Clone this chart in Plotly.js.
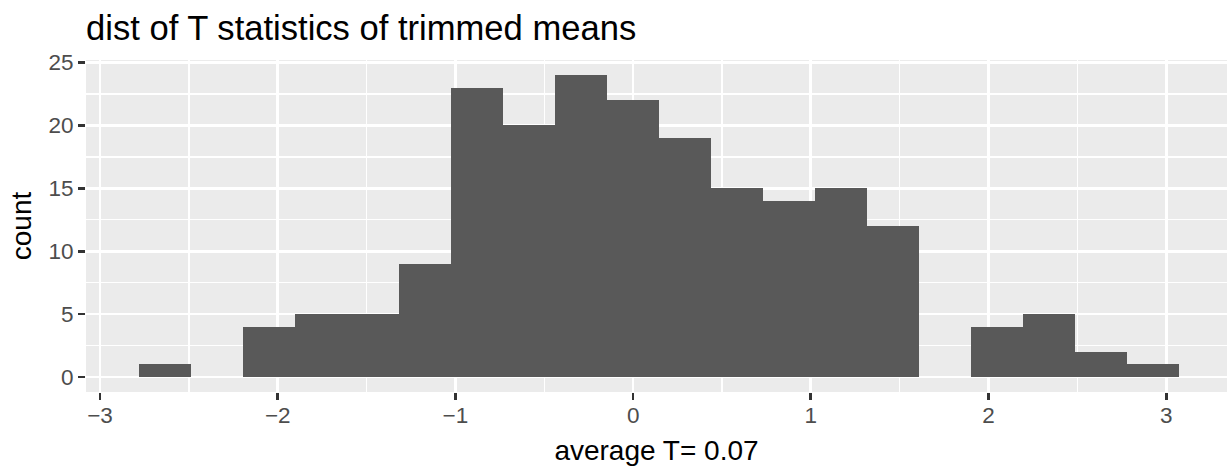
<!DOCTYPE html>
<html>
<head>
<meta charset="utf-8">
<script src="https://cdn.plot.ly/plotly-3.0.1.min.js"></script>
<style>html,body{margin:0;padding:0;background:#fff;}</style>
</head>
<body>
<div id="chart" style="width:1227px;height:466px;"></div>
<script>
// Histogram data (20 bins)
const binCenters = [-2.6347, -2.3420, -2.0494, -1.7567, -1.4641, -1.1714, -0.8788, -0.5861, -0.2935, -0.0008,
                    0.2918, 0.5845, 0.8771, 1.1698, 1.4624, 1.7551, 2.0477, 2.3404, 2.6330, 2.9257];
const binWidth = 0.29265;
const counts = [1, 0, 4, 5, 5, 9, 23, 20, 24, 22, 19, 15, 14, 15, 12, 0, 4, 5, 2, 1];
const xTicks = [-3, -2, -1, 0, 1, 2, 3];
const xTickLabels = ['\u22123', '\u22122', '\u22121', '0', '1', '2', '3'];
const yTicks = [0, 5, 10, 15, 20, 25];
const yTickLabels = ['0', '5', '10', '15', '20', '25'];
const titleText = 'dist of T statistics of trimmed means';
const xTitle = 'average T= 0.07';
const yTitle = 'count';

const font = 'Liberation Sans, Arial, Helvetica, sans-serif';

const trace = {
  type: 'bar',
  x: binCenters,
  y: counts,
  width: binCenters.map(() => binWidth),
  marker: {color: '#595959', line: {width: 0}},
  hoverinfo: 'x+y'
};

const layout = {
  width: 1227,
  height: 466,
  margin: {l: 86, r: 0, t: 60, b: 74, pad: 0},
  paper_bgcolor: '#FFFFFF',
  plot_bgcolor: '#EBEBEB',
  showlegend: false,
  bargap: 0,
  title: {
    text: titleText,
    font: {family: font, size: 34.6, color: '#000000'},
    x: 0, xref: 'paper', xanchor: 'left',
    y: 1 - 28/466, yref: 'container', yanchor: 'middle'
  },
  xaxis: {
    range: [-3.079, 3.342],
    tickmode: 'array',
    tickvals: xTicks,
    ticktext: xTickLabels,
    ticks: 'outside',
    ticklen: 7,
    tickwidth: 2.7,
    tickcolor: '#333333',
    tickfont: {family: font, size: 22.5, color: '#4D4D4D'},
    ticklabelstandoff: -4,
    showgrid: true,
    gridcolor: '#FFFFFF',
    gridwidth: 2.7,
    minor: {dtick: 0.5, tick0: -3, showgrid: true, gridcolor: '#FFFFFF', gridwidth: 1.4, ticks: ''},
    zeroline: false,
    showline: false,
    automargin: false,
    title: {text: xTitle, font: {family: font, size: 28, color: '#000000'}, standoff: 13}
  },
  yaxis: {
    range: [-1.2, 25.2],
    tickmode: 'array',
    tickvals: yTicks,
    ticktext: yTickLabels,
    ticks: 'outside',
    ticklen: 7,
    tickwidth: 2.7,
    tickcolor: '#333333',
    tickfont: {family: font, size: 22.5, color: '#4D4D4D'},
    showgrid: true,
    gridcolor: '#FFFFFF',
    gridwidth: 2.7,
    minor: {dtick: 2.5, tick0: 0, showgrid: true, gridcolor: '#FFFFFF', gridwidth: 1.4, ticks: ''},
    zeroline: false,
    showline: false,
    automargin: false,
    title: {text: yTitle, font: {family: font, size: 28, color: '#000000'}, standoff: 8}
  }
};

Plotly.newPlot('chart', [trace], layout, {displayModeBar: false, staticPlot: true});
</script>
</body>
</html>
